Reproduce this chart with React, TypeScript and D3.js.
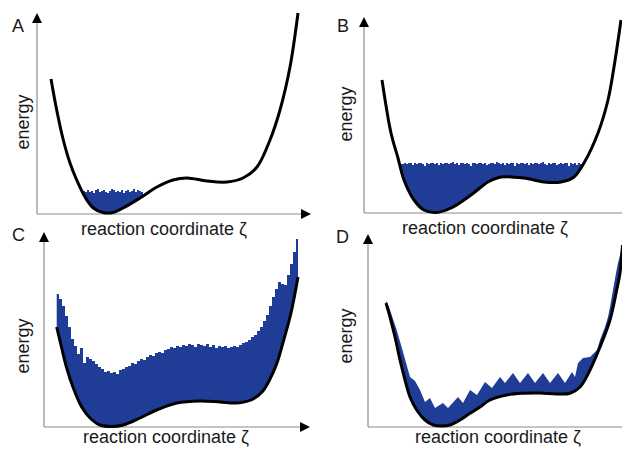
import React from "react";
import * as d3 from "d3";

// ---------- data: energy curves (ζ, energy) ----------
const curveA_zeta = [14, 19.7, 26.3, 33, 39.7, 48, 56.3, 66, 76, 86, 103, 120, 136, 150, 170, 190, 206, 220, 233, 243, 253, 261];
const curveA_energy = [135, 104, 74, 51, 34, 17, 6, 1.5, 1.5, 6, 16, 27, 34, 36, 33, 32, 36, 47, 74, 104, 147, 201];

const curveB_zeta = [18, 27, 33.7, 40, 50, 60, 72, 87, 107, 124, 137, 160, 180, 197, 210, 220, 234, 244, 250, 257];
const curveB_energy = [133, 80, 56, 33, 13, 3, 0.5, 5, 18, 31, 36, 35, 31, 31, 36, 50, 80, 113, 146, 193];

const curveC_zeta = [12.7, 17.7, 22.7, 29.3, 37.7, 46, 56, 67.7, 79.3, 96, 112.7, 132.7, 156, 176, 192.7, 207, 218, 226, 233, 240, 247, 254];
const curveC_energy = [100, 79, 59, 39, 20, 9, 2, 0.5, 2, 9, 17, 24, 26, 25, 24, 27, 35, 48, 64, 88, 114, 150];

const curveD_zeta = [18, 22, 27, 32, 37, 42, 48.7, 57, 65.3, 73.7, 82, 92, 102, 112, 122, 138.7, 155, 172, 188.7, 202, 212, 222, 232, 242, 248.7, 252, 254.5];
const curveD_energy = [124, 110, 90, 67, 47, 30, 17, 7, 2, 1, 2, 7, 13.7, 20, 27, 32, 33.7, 34, 33, 33.7, 40, 57, 80, 107, 137, 154, 182];

// ---------- data: sampled histograms (bin start ζ, bin width, bar tops) ----------
const histA_start = 44;
const histA_width = 2;
const histA_top = [21, 23, 22, 24, 22, 23, 21, 24, 25, 22, 23, 24, 22, 21, 23, 25, 24, 22, 23, 22, 24, 21, 23, 24, 22, 23, 25, 22, 24, 23, 22];

const histB_start = 34;
const histB_width = 2;
const histB_top = [
  50, 49,
  49, 50, 49, 50, 50, 48, 50, 49, 50, 50, 49, 47, 50, 49, 50, 50, 49, 50, 48, 50,
  49, 50, 50, 49, 50, 51, 49, 50, 48, 50, 50, 49, 50, 49, 47, 50, 50, 49, 50, 50,
  49, 50, 48, 49, 50, 50, 49, 51, 50, 49, 50, 48, 50, 49, 50, 50, 47, 50, 49, 50,
  50, 49, 50, 48, 50, 49, 50, 50, 49, 50, 51, 49, 48, 50, 49, 50, 50, 48, 49, 50,
  49, 50, 50, 47, 50, 49, 50, 48, 50, 49, 50,
];

const histC_start = 12;
const histC_width = 3;
const histC_top = [
  133, 128, 121, 111, 100, 88, 81, 73, 79, 64, 70, 68, 66, 63, 60, 58, 55, 56, 54, 55,
  53, 57, 58, 60, 61, 64, 63, 66, 68, 67, 70, 72, 71, 74, 75, 74, 77, 78, 80, 79,
  81, 80, 82, 81, 83, 82, 80, 83, 82, 81, 83, 80, 82, 79, 81, 80, 81, 79, 80, 81,
  80, 82, 84, 85, 87, 90, 92, 96, 100, 106, 112, 121, 130, 138, 145, 143, 142, 152, 163, 175,
  188,
];

// metadynamics-like filled profile (panel D), read as (ζ, energy) vertices
const fillD_zeta = [18, 21, 28.7, 35.3, 42, 47, 52, 57, 62, 67, 75, 80, 90, 95, 102, 109, 117, 124, 132, 137, 145, 152, 160, 167, 175, 182, 190, 197, 204, 207, 210, 215, 222, 229, 232, 237, 240, 242, 245, 248, 250, 254];
const fillD_energy = [126, 120, 97, 74, 50, 46, 37, 25, 29, 19, 24, 19, 30, 24, 37, 32, 45, 39, 50, 44, 54, 44, 54, 44, 54, 44, 54, 44, 55, 50, 64, 69, 70, 77, 87, 100, 110, 120, 137, 154, 164, 180];

const panelLetters = ["A", "B", "C", "D"];
const xAxisLabel = "reaction coordinate ζ";
const yAxisLabel = "energy";

// ---------- styling ----------
const BLUE = "#1f3d96";
const AXIS = "#8c8c8c";
const TEXT = "#1a1a1a";
const FONT = "'Liberation Sans', Arial, Helvetica, sans-serif";

type Fill = { zeta: number[]; energy: number[]; step: boolean };

function binsToFill(start: number, width: number, tops: number[]): Fill {
  const zeta = tops.map((_, i) => start + i * width).concat([start + tops.length * width]);
  const energy = tops.concat([tops[tops.length - 1]]);
  return { zeta, energy, step: true };
}

type PanelDef = {
  letter: string;
  ox: number;
  oy: number;
  yTip: number;
  xTip: number;
  letterPos: [number, number];
  energyPos: [number, number];
  labelPos: [number, number];
  curveZ: number[];
  curveE: number[];
  fill: Fill;
};

const panels: PanelDef[] = [
  {
    letter: panelLetters[0], ox: 37, oy: 214, yTip: 13, xTip: 311,
    letterPos: [12, 32], energyPos: [29, 122], labelPos: [164, 235],
    curveZ: curveA_zeta, curveE: curveA_energy,
    fill: binsToFill(histA_start, histA_width, histA_top),
  },
  {
    letter: panelLetters[1], ox: 364, oy: 213, yTip: 17, xTip: 632,
    letterPos: [337, 32], energyPos: [352, 114], labelPos: [485, 234],
    curveZ: curveB_zeta, curveE: curveB_energy,
    fill: binsToFill(histB_start, histB_width, histB_top),
  },
  {
    letter: panelLetters[2], ox: 44, oy: 427, yTip: 232, xTip: 310,
    letterPos: [12, 241], energyPos: [29, 346], labelPos: [166, 443],
    curveZ: curveC_zeta, curveE: curveC_energy,
    fill: binsToFill(histC_start, histC_width, histC_top),
  },
  {
    letter: panelLetters[3], ox: 368, oy: 427, yTip: 234, xTip: 634,
    letterPos: [336, 243], energyPos: [352, 336], labelPos: [498, 443],
    curveZ: curveD_zeta, curveE: curveD_energy,
    fill: { zeta: fillD_zeta, energy: fillD_energy, step: false },
  },
];

function Panel({ p, idx }: { p: PanelDef; idx: number }) {
  const x = d3.scaleLinear().domain([0, 280]).range([p.ox, p.ox + 280]);
  const y = d3.scaleLinear().domain([0, 200]).range([p.oy, p.oy - 200]);
  const smooth = d3.curveCatmullRom.alpha(0.5);

  const pts: [number, number][] = p.curveZ.map((z, i) => [z, p.curveE[i]]);
  const linePath = d3
    .line<[number, number]>()
    .x((d) => x(d[0]))
    .y((d) => y(d[1]))
    .curve(smooth)(pts) as string;
  const clipArea = d3
    .area<[number, number]>()
    .x((d) => x(d[0]))
    .y0((d) => y(d[1]))
    .y1(y(320))
    .curve(smooth)(pts) as string;

  const fpts: [number, number][] = p.fill.zeta.map((z, i) => [z, p.fill.energy[i]]);
  const fillPath = d3
    .area<[number, number]>()
    .x((d) => x(d[0]))
    .y0(y(0))
    .y1((d) => y(d[1]))
    .curve(p.fill.step ? d3.curveStepAfter : d3.curveLinear)(fpts) as string;

  const x0 = x(0);
  const y0 = y(0);
  const ah = 10;
  const aw = 5;
  const clipId = `above-curve-${idx}`;

  return (
    <g>
      <defs>
        <clipPath id={clipId}>
          <path d={clipArea} />
        </clipPath>
      </defs>
      {/* axes */}
      <line x1={x0} y1={y0} x2={x0} y2={p.yTip + ah - 1} stroke={AXIS} strokeWidth={1.2} />
      <line x1={x0} y1={y0} x2={p.xTip - ah + 1} y2={y0} stroke={AXIS} strokeWidth={1.2} />
      <path d={`M${x0},${p.yTip}L${x0 - aw},${p.yTip + ah}L${x0 + aw},${p.yTip + ah}Z`} fill="#000" />
      <path d={`M${p.xTip},${y0}L${p.xTip - ah},${y0 - aw}L${p.xTip - ah},${y0 + aw}Z`} fill="#000" />
      {/* sampled distribution */}
      <path d={fillPath} fill={BLUE} clipPath={`url(#${clipId})`} />
      {/* energy curve */}
      <path d={linePath} fill="none" stroke="#000" strokeWidth={3} strokeLinecap="butt" strokeLinejoin="round" />
      {/* texts */}
      <text x={p.letterPos[0]} y={p.letterPos[1]} fontSize={18} fill={TEXT} fontFamily={FONT}>
        {p.letter}
      </text>
      <text
        transform={`translate(${p.energyPos[0]},${p.energyPos[1]}) rotate(-90)`}
        textAnchor="middle"
        fontSize={18}
        fill={TEXT}
        fontFamily={FONT}
      >
        {yAxisLabel}
      </text>
      <text x={p.labelPos[0]} y={p.labelPos[1]} textAnchor="middle" fontSize={18} fill={TEXT} fontFamily={FONT}>
        {xAxisLabel}
      </text>
    </g>
  );
}

export default function App() {
  return (
    <svg
      width={622}
      height={449}
      viewBox="0 0 622 449"
      style={{ position: "fixed", left: 0, top: 0, background: "#fff" }}
    >
      <rect x={0} y={0} width={622} height={449} fill="#fff" />
      {panels.map((p, i) => (
        <Panel key={p.letter} p={p} idx={i} />
      ))}
    </svg>
  );
}
